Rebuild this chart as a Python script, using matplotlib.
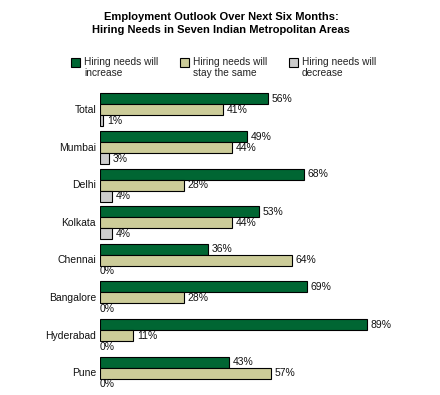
import numpy as np
import matplotlib.pyplot as plt
from matplotlib.patches import Rectangle

plt.rcParams['font.family'] = ['Liberation Sans', 'DejaVu Sans']

cities = ['Total', 'Mumbai', 'Delhi', 'Kolkata', 'Chennai', 'Bangalore', 'Hyderabad', 'Pune']
increase = [56, 49, 68, 53, 36, 69, 89, 43]
same = [41, 44, 28, 44, 64, 28, 11, 57]
decrease = [1, 3, 4, 4, 0, 0, 0, 0]
series_names = ['Hiring needs will\nincrease', 'Hiring needs will\nstay the same',
                'Hiring needs will\ndecrease']
colors = ['#006633', '#CCCC99', '#CCCCCC']

W, H = 440, 395
fig = plt.figure(figsize=(W / 100, H / 100), dpi=100)

# axes: x 0..100 -> 300 px starting at x=100; one group = 37.6 px
ax = fig.add_axes([100 / W, 1 - 393.8 / H, 300 / W, 306.4 / H])
ax.set_xlim(0, 100)
ax.set_ylim(7.55, -0.6)
ax.axis('off')

bh = 11 / 37.6
y = np.arange(len(cities))
for k, vals in enumerate([increase, same, decrease]):
    pos = y + (k - 1) * bh
    lw = [0.8 if v > 0 else 0 for v in vals]
    ax.barh(pos, vals, height=bh, color=colors[k], edgecolor='black', linewidth=lw)
    for p, v in zip(pos, vals):
        x = v + 1.3 if v > 0 else 0
        ax.text(x, p, f'{v}%', va='center', ha='left', fontsize=7.5, color='#111111')

for p, c in zip(y, cities):
    ax.text(-1.3, p, c, va='center', ha='right', fontsize=7.5, color='#111111')

fig.text(221 / W, 1 - 23.5 / H, 'Employment Outlook Over Next Six Months:\nHiring Needs in Seven Indian Metropolitan Areas',
         ha='center', va='center', fontsize=8, fontweight='bold', linespacing=1.3)

# legend
for sx, name, col in zip([71, 180, 289], series_names, colors):
    fig.patches.append(Rectangle((sx / W, 1 - 67 / H), 9 / W, 9 / H, transform=fig.transFigure,
                                 facecolor=col, edgecolor='black', linewidth=0.8))
    fig.text((sx + 13) / W, 1 - 57 / H, name, ha='left', va='top', fontsize=7.3,
             color='#222222', linespacing=1.1)

fig.savefig('out.png', dpi=100)
